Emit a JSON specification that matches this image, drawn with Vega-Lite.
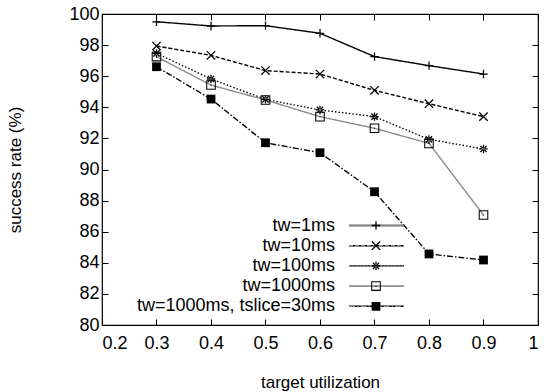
{
  "$schema": "https://vega.github.io/schema/vega-lite/v6.json",
  "width": 436,
  "height": 311,
  "autosize": {"type": "none"},
  "padding": {"left": 102, "top": 14, "right": 6, "bottom": 67},
  "config": {
    "font": "Liberation Sans",
    "view": {"stroke": "black", "strokeWidth": 1.2},
    "axis": {
      "labelFont": "Liberation Sans",
      "titleFont": "Liberation Sans",
      "labelFontSize": 18,
      "titleFontSize": 17,
      "titleFontWeight": "normal",
      "labelColor": "black",
      "titleColor": "black",
      "tickColor": "black",
      "domain": false,
      "grid": false,
      "tickSize": -6,
      "tickWidth": 1
    },
    "legend": {"labelFont": "Liberation Sans", "labelColor": "black"}
  },
  "data": {
    "values": [
      {"s": "tw=1ms", "u": 0.3, "r": 99.5},
      {"s": "tw=1ms", "u": 0.4, "r": 99.23},
      {"s": "tw=1ms", "u": 0.5, "r": 99.25},
      {"s": "tw=1ms", "u": 0.6, "r": 98.76},
      {"s": "tw=1ms", "u": 0.7, "r": 97.26},
      {"s": "tw=1ms", "u": 0.8, "r": 96.68},
      {"s": "tw=1ms", "u": 0.9, "r": 96.14},
      {"s": "tw=10ms", "u": 0.3, "r": 97.94},
      {"s": "tw=10ms", "u": 0.4, "r": 97.34},
      {"s": "tw=10ms", "u": 0.5, "r": 96.36},
      {"s": "tw=10ms", "u": 0.6, "r": 96.14},
      {"s": "tw=10ms", "u": 0.7, "r": 95.09},
      {"s": "tw=10ms", "u": 0.8, "r": 94.23},
      {"s": "tw=10ms", "u": 0.9, "r": 93.4},
      {"s": "tw=100ms", "u": 0.3, "r": 97.47},
      {"s": "tw=100ms", "u": 0.4, "r": 95.82},
      {"s": "tw=100ms", "u": 0.5, "r": 94.51},
      {"s": "tw=100ms", "u": 0.6, "r": 93.83},
      {"s": "tw=100ms", "u": 0.7, "r": 93.4},
      {"s": "tw=100ms", "u": 0.8, "r": 91.94},
      {"s": "tw=100ms", "u": 0.9, "r": 91.32},
      {"s": "tw=1000ms", "u": 0.3, "r": 97.26},
      {"s": "tw=1000ms", "u": 0.4, "r": 95.43},
      {"s": "tw=1000ms", "u": 0.5, "r": 94.47},
      {"s": "tw=1000ms", "u": 0.6, "r": 93.4},
      {"s": "tw=1000ms", "u": 0.7, "r": 92.65},
      {"s": "tw=1000ms", "u": 0.8, "r": 91.68},
      {"s": "tw=1000ms", "u": 0.9, "r": 87.07},
      {"s": "tw=1000ms, tslice=30ms", "u": 0.3, "r": 96.61},
      {"s": "tw=1000ms, tslice=30ms", "u": 0.4, "r": 94.53},
      {"s": "tw=1000ms, tslice=30ms", "u": 0.5, "r": 91.72},
      {"s": "tw=1000ms, tslice=30ms", "u": 0.6, "r": 91.08},
      {"s": "tw=1000ms, tslice=30ms", "u": 0.7, "r": 88.57},
      {"s": "tw=1000ms, tslice=30ms", "u": 0.8, "r": 84.57},
      {"s": "tw=1000ms, tslice=30ms", "u": 0.9, "r": 84.18}
    ]
  },
  "layer": [
    {
      "mark": {"type": "line", "strokeWidth": 1.4},
      "encoding": {
        "x": {
          "field": "u", "type": "quantitative",
          "scale": {"domain": [0.2, 1], "nice": false, "zero": false},
          "axis": {"orient": "bottom", "values": [0.2, 0.3, 0.4, 0.5, 0.6, 0.7, 0.8, 0.9, 1], "format": ".1~f", "title": "target utilization", "labelPadding": 15, "titlePadding": 22}
        },
        "y": {
          "field": "r", "type": "quantitative",
          "scale": {"domain": [80, 100], "nice": false, "zero": false},
          "axis": {"orient": "left", "values": [80, 82, 84, 86, 88, 90, 92, 94, 96, 98, 100], "format": "d", "title": "success rate (%)", "labelPadding": 9, "titlePadding": 44}
        },
        "strokeDash": {
          "field": "s", "type": "nominal",
          "sort": ["tw=1ms", "tw=10ms", "tw=100ms", "tw=1000ms", "tw=1000ms, tslice=30ms"],
          "scale": {"range": [[1, 0], [4, 2], [1.5, 2], [1, 0], [6, 2, 1.5, 2]]},
          "legend": {"orient": "none", "legendX": 246, "legendY": 203, "zindex": 1, "title": null, "symbolType": "stroke", "symbolSize": 3025, "symbolStrokeWidth": 1.4, "labelOpacity": 0, "labelExpr": "''", "labelFontSize": 18, "clipHeight": 17, "rowPadding": 1.2, "padding": 0}
        },
        "color": {
          "field": "s", "type": "nominal",
          "sort": ["tw=1ms", "tw=10ms", "tw=100ms", "tw=1000ms", "tw=1000ms, tslice=30ms"],
          "scale": {"range": ["black", "black", "black", "#8c8c8c", "black"]},
          "legend": {"orient": "none", "legendX": 246, "legendY": 203, "zindex": 1, "title": null, "symbolType": "stroke", "symbolSize": 3025, "symbolStrokeWidth": 1.4, "labelOpacity": 0, "labelExpr": "''", "labelFontSize": 18, "clipHeight": 17, "rowPadding": 1.2, "padding": 0}
        }
      }
    },
    {
      "mark": {"type": "point", "filled": true, "color": "black", "strokeWidth": 0, "size": 70, "opacity": 1},
      "encoding": {
        "x": {
          "field": "u", "type": "quantitative",
          "axis": {"orient": "top", "values": [0.2, 0.3, 0.4, 0.5, 0.6, 0.7, 0.8, 0.9, 1], "labels": false, "title": null}
        },
        "y": {
          "field": "r", "type": "quantitative",
          "axis": {"orient": "right", "values": [80, 82, 84, 86, 88, 90, 92, 94, 96, 98, 100], "labels": false, "title": null}
        },
        "shape": {
          "field": "s", "type": "nominal",
          "scale": {
            "domain": ["tw=1ms", "tw=10ms", "tw=100ms", "tw=1000ms", "tw=1000ms, tslice=30ms"],
            "range": [
              "M-1,-0.15H-0.15V-1H0.15V-0.15H1V0.15H0.15V1H-0.15V0.15H-1Z",
              "M-1.106,-0.894L0.894,1.106L1.106,0.894L-0.894,-1.106ZM-0.894,1.106L1.106,-0.894L0.894,-1.106L-1.106,0.894Z",
              "M-1,-0.15H-0.15V-1H0.15V-0.15H1V0.15H0.15V1H-0.15V0.15H-1ZM-0.856,-0.644L0.644,0.856L0.856,0.644L-0.644,-0.856ZM-0.644,0.856L0.856,-0.644L0.644,-0.856L-0.856,0.644Z",
              "M-1.15,-1.15H1.15V1.15H-1.15ZM-0.9,-0.9V0.9H0.9V-0.9ZM-0.13,-0.13H0.13V0.13H-0.13Z",
              "M-1.05,-1.05H1.05V1.05H-1.05Z"
            ]
          },
          "legend": {"orient": "none", "legendX": 265, "legendY": 203, "zindex": 5, "title": null, "symbolSize": 70, "symbolFillColor": "black", "symbolStrokeColor": "black", "symbolStrokeWidth": 0, "symbolOpacity": 1, "labelExpr": "''", "labelFontSize": 18, "clipHeight": 17, "rowPadding": 1.2, "padding": 0}
        },
        "fill": {
          "field": "s", "type": "nominal",
          "scale": {
            "domain": ["tw=1000ms, tslice=30ms", "tw=1000ms", "tw=100ms", "tw=10ms", "tw=1ms"],
            "range": ["black", "black", "black", "black", "black"]
          },
          "legend": {"orient": "none", "legendX": 265, "legendY": 203, "zindex": 3, "values": ["tw=1ms", "tw=10ms", "tw=100ms", "tw=1000ms", "tw=1000ms, tslice=30ms"], "title": null, "symbolSize": 70, "symbolOpacity": 0, "symbolStrokeWidth": 0, "labelAlign": "right", "labelOffset": -50, "labelFontSize": 18, "labelLimit": 300, "clipHeight": 17, "rowPadding": 1.2, "padding": 0}
        }
      }
    }
  ],
  "resolve": {"axis": {"x": "independent", "y": "independent"}}
}
